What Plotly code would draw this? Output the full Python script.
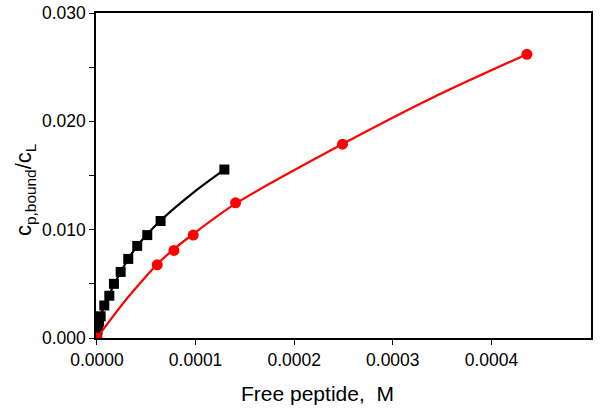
import plotly.graph_objects as go

# Data
sq_x = [0.0, 0.0000005, 0.000001, 0.000002, 0.0000037, 0.0000074, 0.0000125, 0.0000172,
        0.0000240, 0.0000317, 0.0000408, 0.0000510, 0.0000645, 0.0001292]
sq_y = [0.0003, 0.0007, 0.0011, 0.0015, 0.0020, 0.0030, 0.0039, 0.0050,
        0.0061, 0.0073, 0.0085, 0.0095, 0.0108, 0.01555]

sq_fit_x = [0.0, 0.000004, 0.000012, 0.000024, 0.000040, 0.000064, 0.000099, 0.0001292]
sq_fit_y = [0.0, 0.0021, 0.0039, 0.0061, 0.0084, 0.0108, 0.01352, 0.01555]

ci_x = [0.0, 0.0000611, 0.0000780, 0.0000976, 0.0001405, 0.000249, 0.000436]
ci_y = [0.0, 0.00676, 0.00808, 0.0095, 0.01248, 0.01789, 0.02619]

ci_fit_x = [0.0, 0.000013, 0.000030, 0.000047, 0.000062, 0.000078, 0.0000976, 0.0001405,
            0.000249, 0.0003407, 0.000436]
ci_fit_y = [0.0, 0.0016, 0.0036, 0.0054, 0.0069, 0.0082, 0.0096, 0.0124,
            0.0179, 0.0222, 0.0262]

x_ticks = [0.0, 0.0001, 0.0002, 0.0003, 0.0004]
y_ticks = [0.0, 0.010, 0.020, 0.030]

fig = go.Figure()
fig.add_trace(go.Scatter(x=sq_fit_x, y=sq_fit_y, mode="lines",
                         line=dict(color="black", width=2.2, shape="spline", smoothing=0.8),
                         hoverinfo="skip", showlegend=False))
fig.add_trace(go.Scatter(x=sq_x, y=sq_y, mode="markers",
                         marker=dict(symbol="square", size=10, color="black"),
                         showlegend=False))
fig.add_trace(go.Scatter(x=ci_fit_x, y=ci_fit_y, mode="lines",
                         line=dict(color="#ff0000", width=2.2, shape="spline", smoothing=0.8),
                         hoverinfo="skip", showlegend=False))
fig.add_trace(go.Scatter(x=ci_x, y=ci_y, mode="markers",
                         marker=dict(symbol="circle", size=11, color="#ff0000"),
                         showlegend=False))

axis_font = dict(family="Liberation Sans, Arial, sans-serif", size=17.5, color="black")
fig.update_layout(
    width=601, height=410,
    margin=dict(l=96, r=10, t=13, b=72, autoexpand=False),
    paper_bgcolor="white", plot_bgcolor="white",
    font=dict(family="Liberation Sans, Arial, sans-serif", color="black"),
    xaxis=dict(range=[-0.000001, 0.000501], tickvals=x_ticks, tickformat=".4f",
               ticks="outside", ticklen=5, tickwidth=1.3, tickcolor="black",
               showline=True, linecolor="black", linewidth=1.5, mirror=True,
               showgrid=False, zeroline=False, tickfont=axis_font),
    yaxis=dict(range=[0, 0.030], tickvals=y_ticks, tickformat=".3f",
               ticks="outside", ticklen=5, tickwidth=1.3, tickcolor="black",
               minor=dict(dtick=0.005, tick0=0, ticks="outside", ticklen=5,
                          tickwidth=1.3, tickcolor="black", showgrid=False),
               showline=True, linecolor="black", linewidth=1.5, mirror=True,
               showgrid=False, zeroline=False, tickfont=axis_font),
    annotations=[
        dict(text="Free peptide,  M", xref="paper", yref="paper",
             x=(317 - 96) / 495, y=-55 / 325, xanchor="center", yanchor="middle",
             showarrow=False, font=dict(size=21, family="Liberation Sans, Arial, sans-serif")),
        dict(text="c<sub>p,bound</sub>/c<sub>L</sub>", xref="paper", yref="paper",
             x=(25 - 96) / 495, y=(338 - 190) / 325, xanchor="center", yanchor="middle",
             textangle=-90, showarrow=False,
             font=dict(size=22, family="Liberation Sans, Arial, sans-serif")),
    ],
)

fig.write_html("out.html", config={"displayModeBar": False},
               post_script="document.body.style.margin='0';document.body.style.padding='0';")
